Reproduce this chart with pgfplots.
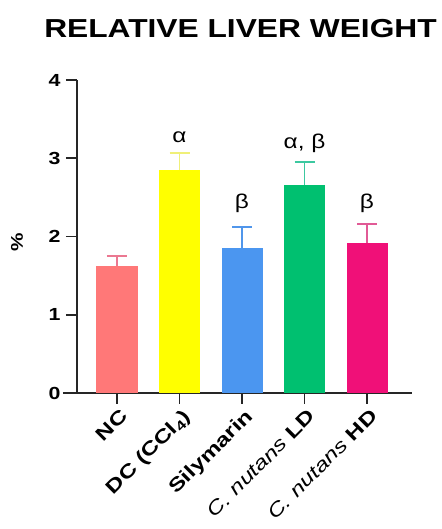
\documentclass[border=0pt]{standalone}
\usepackage{pgfplots}
\pgfplotsset{compat=1.18}
\usepackage{fontspec}
\setmainfont{Liberation Sans}
\newfontfamily\widefont[FakeStretch=1.22]{Liberation Sans}
\newfontfamily\xlfont[FakeStretch=1.28]{Liberation Sans}
\definecolor{cNC}{RGB}{255,120,120}
\definecolor{cDC}{RGB}{255,255,0}
\definecolor{cSI}{RGB}{75,150,240}
\definecolor{cLD}{RGB}{0,192,112}
\definecolor{cHD}{RGB}{240,16,120}
\definecolor{eNC}{RGB}{235,120,145}
\definecolor{eDC}{RGB}{240,240,120}
\definecolor{eSI}{RGB}{80,150,235}
\definecolor{eLD}{RGB}{60,200,160}
\definecolor{eHD}{RGB}{225,90,150}
\begin{document}
\begin{tikzpicture}
\useasboundingbox (-77pt,-136pt) rectangle (364pt,393pt);
\begin{axis}[
  at={(0,0)}, anchor=south west,
  scale only axis, width=335pt, height=313pt,
  xmin=-0.64, xmax=4.72, ymin=0, ymax=4,
  axis lines=left,
  axis line style={-, line width=1.8pt, black!85},
  x axis line style={shorten <=-14pt},
  ytick={0,1,2,3,4},
  xtick={0,1,2,3,4},
  xticklabels={NC, DC (CCl\textsubscript{4}), Silymarin, {\mdseries\itshape C. nutans} LD, {\mdseries\itshape C. nutans} HD},
  tick style={line width=1.8pt, black!85},
  tick align=outside,
  major tick length=11pt,
  /pgf/number format/assume math mode=true,
  yticklabel style={font=\widefont\bfseries\fontsize{17.5}{17.5}\selectfont, xshift=-2pt},
  xticklabel style={font=\xlfont\bfseries\fontsize{19}{19}\selectfont, rotate=45, anchor=north east, inner sep=1pt, yshift=-3pt},
  ylabel={\%},
  ylabel style={font=\widefont\bfseries\fontsize{17}{17}\selectfont, at={(axis description cs:-0.179,0.48)}, anchor=center, rotate=0},
  title={RELATIVE LIVER WEIGHT},
  title style={font=\widefont\bfseries\fontsize{26}{26}\selectfont, at={(0.5,1)}, anchor=base, yshift=36pt, xshift=-4pt},
  ybar, bar width=0.656, bar shift=0pt,
  error bars/y dir=plus, error bars/y explicit,
  clip=false,
]
\addplot[fill=cNC, draw=none, error bars/error bar style={eNC, line width=1.6pt}, error bars/error mark options={eNC, line width=1.6pt, mark size=10pt, rotate=90}] coordinates {(0,1.62) +- (0,0.13)};
\addplot[fill=cDC, draw=none, error bars/error bar style={eDC, line width=1.6pt}, error bars/error mark options={eDC, line width=1.6pt, mark size=10pt, rotate=90}] coordinates {(1,2.85) +- (0,0.22)};
\addplot[fill=cSI, draw=none, error bars/error bar style={eSI, line width=1.6pt}, error bars/error mark options={eSI, line width=1.6pt, mark size=10pt, rotate=90}] coordinates {(2,1.85) +- (0,0.27)};
\addplot[fill=cLD, draw=none, error bars/error bar style={eLD, line width=1.6pt}, error bars/error mark options={eLD, line width=1.6pt, mark size=10pt, rotate=90}] coordinates {(3,2.66) +- (0,0.29)};
\addplot[fill=cHD, draw=none, error bars/error bar style={eHD, line width=1.6pt}, error bars/error mark options={eHD, line width=1.6pt, mark size=10pt, rotate=90}] coordinates {(4,1.92) +- (0,0.24)};
\node[font=\widefont\fontsize{20}{20}\selectfont] at (axis cs:1,3.27) {α};
\node[font=\widefont\fontsize{20}{20}\selectfont] at (axis cs:3,3.19) {α, β};
\node[font=\widefont\fontsize{20}{20}\selectfont] at (axis cs:2,2.43) {β};
\node[font=\widefont\fontsize{20}{20}\selectfont] at (axis cs:4,2.43) {β};
\end{axis}
\end{tikzpicture}
\end{document}
